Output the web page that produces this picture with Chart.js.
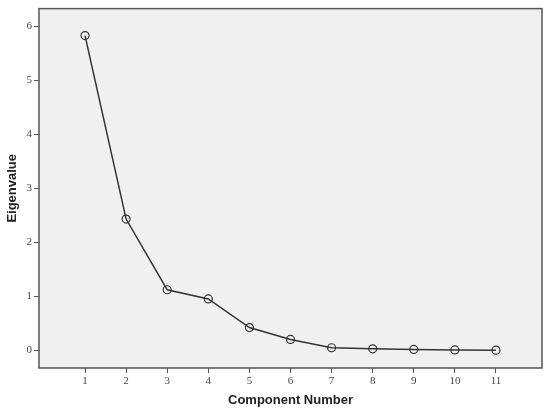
<!DOCTYPE html>
<html>
<head>
<meta charset="utf-8">
<script src="https://cdn.jsdelivr.net/npm/chart.js@4"></script>
<style>
html,body{margin:0;padding:0;background:#fff;}
#wrap{width:550px;height:414px;position:relative;}
</style>
</head>
<body>
<div id="wrap"><canvas id="c" width="550" height="414"></canvas></div>
<script>
const components = [1,2,3,4,5,6,7,8,9,10,11];
const eigenvalues = [5.83,2.43,1.12,0.95,0.42,0.20,0.045,0.025,0.015,0.005,0.0];
const yTicks = [0,1,2,3,4,5,6];
const xTitle = 'Component Number';
const yTitle = 'Eigenvalue';

const plotBg = {
  id:'plotBg',
  beforeDraw(chart){
    const {ctx, chartArea:a} = chart;
    ctx.save();
    ctx.fillStyle = '#f0f0f0';
    ctx.fillRect(a.left, a.top, a.right-a.left, a.bottom-a.top);
    ctx.restore();
  },
  afterDraw(chart){
    const {ctx, chartArea:a} = chart;
    ctx.save();
    ctx.strokeStyle = '#555';
    ctx.lineWidth = 1.5;
    ctx.strokeRect(a.left, a.top, a.right-a.left, a.bottom-a.top);
    ctx.restore();
  }
};

new Chart(document.getElementById('c'), {
  type:'line',
  data:{
    datasets:[{
      data: components.map((x,i)=>({x:x, y:eigenvalues[i]})),
      borderColor:'#333',
      borderWidth:1.5,
      pointStyle:'circle',
      pointRadius:4,
      pointBorderWidth:1.2,
      pointBorderColor:'#333',
      pointBackgroundColor:'rgba(0,0,0,0)',
      tension:0
    }]
  },
  options:{
    responsive:false,
    animation:false,
    devicePixelRatio:1,
    layout:{padding:{top:8,right:8,left:5,bottom:0}},
    plugins:{legend:{display:false},tooltip:{enabled:false}},
    scales:{
      x:{
        type:'linear',
        min:-0.12, max:12.12,
        afterBuildTicks(s){ s.ticks = components.map(v=>({value:v})); },
        afterFit(s){ s.height = 46; },
        grid:{display:true, drawOnChartArea:false, tickLength:5, color:'#555', lineWidth:1},
        border:{display:false},
        ticks:{autoSkip:false, maxRotation:0, padding:2, color:'#444', font:{family:'Liberation Serif', size:11}, callback:v=>String(v)},
        title:{display:true, text:xTitle, color:'#222', font:{family:'Liberation Sans', size:13, weight:'bold'}, padding:{top:1,bottom:6}}
      },
      y:{
        min:-0.33, max:6.33,
        afterBuildTicks(s){ s.ticks = yTicks.map(v=>({value:v})); },
        afterFit(s){ s.width = 34; },
        grid:{display:true, drawOnChartArea:false, tickLength:5, color:'#555', lineWidth:1},
        border:{display:false},
        ticks:{padding:2, color:'#444', font:{family:'Liberation Serif', size:11}, callback:v=>String(v)},
        title:{display:true, text:yTitle, color:'#222', font:{family:'Liberation Sans', size:13, weight:'bold'}, padding:{top:0,bottom:4}}
      }
    }
  },
  plugins:[plotBg]
});
</script>
</body>
</html>
